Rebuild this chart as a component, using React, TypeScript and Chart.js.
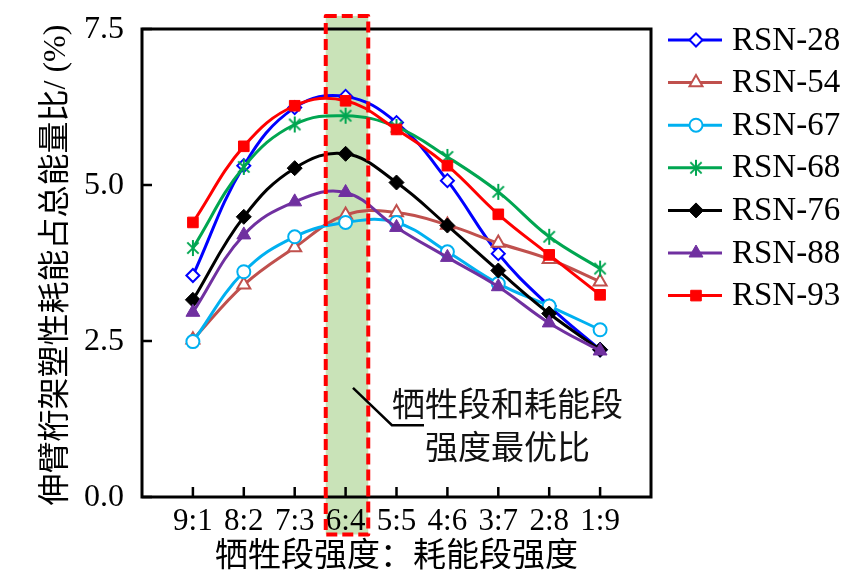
import React, { useEffect, useRef } from 'react';
import { Chart, registerables } from 'chart.js';
import { drawPoint } from 'chart.js/helpers';

Chart.register(...registerables);

// ---------- data ----------
const categories = ['9:1', '8:2', '7:3', '6:4', '5:5', '4:6', '3:7', '2:8', '1:9'];
const seriesNames = ['RSN-28', 'RSN-54', 'RSN-67', 'RSN-68', 'RSN-76', 'RSN-88', 'RSN-93'];
const rsn28 = [3.55, 5.31, 6.24, 6.42, 6.0, 5.07, 3.9, 3.06, 2.36];
const rsn54 = [2.52, 3.4, 4.0, 4.52, 4.56, 4.36, 4.07, 3.81, 3.45];
const rsn67 = [2.49, 3.61, 4.17, 4.4, 4.4, 3.93, 3.42, 3.06, 2.68];
const rsn68 = [3.99, 5.29, 5.97, 6.11, 5.93, 5.45, 4.89, 4.17, 3.66];
const rsn76 = [3.16, 4.49, 5.27, 5.5, 5.04, 4.35, 3.63, 2.94, 2.36];
const rsn88 = [2.96, 4.2, 4.73, 4.88, 4.32, 3.84, 3.37, 2.79, 2.34];
const rsn93 = [4.4, 5.62, 6.27, 6.35, 5.89, 5.31, 4.53, 3.88, 3.24];
const yTicks = [0, 2.5, 5.0, 7.5];
const yTickLabels = ['0.0', '2.5', '5.0', '7.5'];

const yTitle = '伸臂桁架塑性耗能占总能量比/ (%)';
const xTitle = '牺牲段强度：耗能段强度';
const noteLines = ['牺牲段和耗能段', '强度最优比'];

// annotation geometry in data units
const bandX = [3.61, 4.445];
const bandY = [-0.6, 7.71];
const notePath = [
  [4.145, 1.75],
  [4.91, 1.15],
  [5.54, 1.15],
];
const noteTextX = 7.18;
const noteTextY = [1.44, 0.75];

const SERIF = '"Liberation Serif", "Times New Roman", serif';
const CJK = '"Liberation Serif", "Noto Sans CJK SC", sans-serif';

function makeAsterisk(color: string): HTMLCanvasElement {
  const c = document.createElement('canvas');
  c.width = 18;
  c.height = 18;
  const g = c.getContext('2d')!;
  g.strokeStyle = color;
  g.lineWidth = 2;
  const cx = 9,
    cy = 9,
    r = 8;
  g.beginPath();
  g.moveTo(cx, cy - r);
  g.lineTo(cx, cy + r);
  const d = r * Math.SQRT1_2;
  g.moveTo(cx - d, cy - d);
  g.lineTo(cx + d, cy + d);
  g.moveTo(cx + d, cy - d);
  g.lineTo(cx - d, cy + d);
  g.stroke();
  return c;
}

export default function App() {
  const ref = useRef<HTMLCanvasElement | null>(null);

  useEffect(() => {
    if (!ref.current) return;
    const values = [rsn28, rsn54, rsn67, rsn68, rsn76, rsn88, rsn93];
    const styles: any[] = [
      { color: '#0000FF', pointStyle: 'rectRot', fill: '#FFFFFF', radius: 6.5, bw: 2 },
      { color: '#C0504D', pointStyle: 'triangle', fill: '#FFFFFF', radius: 7.5, bw: 2 },
      { color: '#00B0F0', pointStyle: 'circle', fill: '#FFFFFF', radius: 6.5, bw: 2 },
      { color: '#00A651', pointStyle: makeAsterisk('#00A651'), fill: '#00A651', radius: 8, bw: 2 },
      { color: '#000000', pointStyle: 'rectRot', fill: '#000000', radius: 7.5, bw: 1 },
      { color: '#7030A0', pointStyle: 'triangle', fill: '#7030A0', radius: 8, bw: 1 },
      { color: '#FF0000', pointStyle: 'rect', fill: '#FF0000', radius: 7.5, bw: 1 },
    ];

    const datasets = seriesNames.map((name, i) => ({
      label: name,
      data: values[i].map((v, j) => ({ x: j + 1, y: v })),
      borderColor: styles[i].color,
      backgroundColor: styles[i].fill,
      borderWidth: 3,
      tension: 0.4,
      pointStyle: styles[i].pointStyle,
      pointRadius: styles[i].radius,
      pointBorderWidth: styles[i].bw,
      pointBorderColor: styles[i].color,
      pointBackgroundColor: styles[i].fill,
      order: -i,
      clip: false as any,
    }));

    const decor = {
      id: 'decor',
      beforeDraw(chart: any) {
        const { ctx, scales } = chart;
        const xs = scales.x,
          ys = scales.y;
        const x0 = xs.getPixelForValue(bandX[0]);
        const x1 = xs.getPixelForValue(bandX[1]);
        const y0 = ys.getPixelForValue(bandY[1]);
        const y1 = ys.getPixelForValue(bandY[0]);
        ctx.save();
        ctx.fillStyle = '#C9E3B8';
        ctx.fillRect(x0, y0, x1 - x0, y1 - y0);
        ctx.restore();
      },
      afterDraw(chart: any) {
        const { ctx, scales, chartArea } = chart;
        const xs = scales.x,
          ys = scales.y;
        const { left, right, top, bottom } = chartArea;
        ctx.save();
        // frame
        ctx.strokeStyle = '#000';
        ctx.lineWidth = 3;
        ctx.strokeRect(left, top, right - left, bottom - top);
        // inward ticks
        ctx.lineWidth = 2.5;
        ctx.beginPath();
        yTicks.forEach((v) => {
          const y = ys.getPixelForValue(v);
          ctx.moveTo(left, y);
          ctx.lineTo(left + 10, y);
        });
        categories.forEach((_, i) => {
          const x = xs.getPixelForValue(i + 1);
          ctx.moveTo(x, bottom);
          ctx.lineTo(x, bottom - 10);
        });
        ctx.stroke();

        // tick labels
        ctx.fillStyle = '#000';
        ctx.textBaseline = 'middle';
        ctx.font = `32px ${SERIF}`;
        ctx.textAlign = 'right';
        yTicks.forEach((v, i) => {
          ctx.fillText(yTickLabels[i], left - 18, ys.getPixelForValue(v) + 1);
        });
        ctx.font = `31px ${SERIF}`;
        ctx.textAlign = 'center';
        categories.forEach((c, i) => {
          ctx.fillText(c, xs.getPixelForValue(i + 1), bottom + 25);
        });

        // dashed band border
        const x0 = xs.getPixelForValue(bandX[0]);
        const x1 = xs.getPixelForValue(bandX[1]);
        const y0 = ys.getPixelForValue(bandY[1]);
        const y1 = ys.getPixelForValue(bandY[0]);
        ctx.strokeStyle = '#FF0000';
        ctx.lineWidth = 4;
        ctx.setLineDash([11, 5]);
        ctx.lineJoin = 'round';
        ctx.strokeRect(x0, y0, x1 - x0, y1 - y0);
        ctx.setLineDash([]);

        // annotation leader line
        ctx.strokeStyle = '#000';
        ctx.lineWidth = 2.5;
        ctx.lineJoin = 'miter';
        ctx.beginPath();
        notePath.forEach(([vx, vy], k) => {
          const px = xs.getPixelForValue(vx);
          const py = ys.getPixelForValue(vy);
          if (k === 0) ctx.moveTo(px, py);
          else ctx.lineTo(px, py);
        });
        ctx.stroke();

        // annotation text
        ctx.fillStyle = '#111';
        ctx.font = `33px ${CJK}`;
        ctx.textAlign = 'center';
        ctx.textBaseline = 'middle';
        noteLines.forEach((t, k) => {
          ctx.fillText(t, xs.getPixelForValue(noteTextX), ys.getPixelForValue(noteTextY[k]));
        });

        // x title
        ctx.fillStyle = '#000';
        ctx.font = `33px ${CJK}`;
        ctx.fillText(xTitle, (left + right) / 2, 557);

        // y title
        ctx.save();
        ctx.translate(57, (top + bottom) / 2 + 2);
        ctx.rotate(-Math.PI / 2);
        ctx.font = `32px ${CJK}`;
        ctx.fillText(yTitle, 0, 0);
        ctx.restore();

        // legend
        const lx0 = 668,
          lx1 = 722,
          mx = 696,
          tx = 732;
        chart.data.datasets.forEach((ds: any, i: number) => {
          const y = 40 + i * 42.6;
          ctx.strokeStyle = ds.borderColor;
          ctx.lineWidth = 3;
          ctx.beginPath();
          ctx.moveTo(lx0, y);
          ctx.lineTo(lx1, y);
          ctx.stroke();
          ctx.fillStyle = ds.pointBackgroundColor;
          ctx.strokeStyle = ds.pointBorderColor;
          ctx.lineWidth = ds.pointBorderWidth;
          drawPoint(
            ctx,
            { pointStyle: ds.pointStyle, radius: ds.pointRadius, rotation: 0, borderWidth: ds.pointBorderWidth } as any,
            mx,
            y
          );
          ctx.fillStyle = '#000';
          ctx.font = `33px ${SERIF}`;
          ctx.textAlign = 'left';
          ctx.textBaseline = 'middle';
          ctx.fillText(ds.label, tx, y + 1);
        });
        ctx.restore();
      },
    };

    const chart = new Chart(ref.current, {
      type: 'line',
      data: { datasets: datasets as any },
      options: {
        animation: false,
        responsive: true,
        maintainAspectRatio: false,
        layout: { padding: { top: 29, right: 194, left: 0, bottom: 0 } },
        plugins: { legend: { display: false }, tooltip: { enabled: false } },
        scales: {
          x: {
            type: 'linear',
            min: 0,
            max: 10,
            afterBuildTicks: (s: any) => {
              s.ticks = categories.map((_, i) => ({ value: i + 1 }));
            },
            afterFit: (s: any) => {
              s.height = 89;
              s.paddingLeft = 0;
              s.paddingRight = 0;
            },
            ticks: { display: false },
            grid: { display: false, drawTicks: false },
            border: { display: false },
          },
          y: {
            type: 'linear',
            min: 0,
            max: 7.5,
            afterBuildTicks: (s: any) => {
              s.ticks = yTicks.map((v) => ({ value: v }));
            },
            afterFit: (s: any) => {
              s.width = 142;
              s.paddingTop = 0;
              s.paddingBottom = 0;
            },
            ticks: { display: false },
            grid: { display: false, drawTicks: false },
            border: { display: false },
          },
        },
      },
      plugins: [decor],
    });
    return () => chart.destroy();
  }, []);

  return (
    <div style={{ position: 'absolute', left: 0, top: 0, width: 845, height: 586, background: '#fff' }}>
      <canvas ref={ref} />
    </div>
  );
}
